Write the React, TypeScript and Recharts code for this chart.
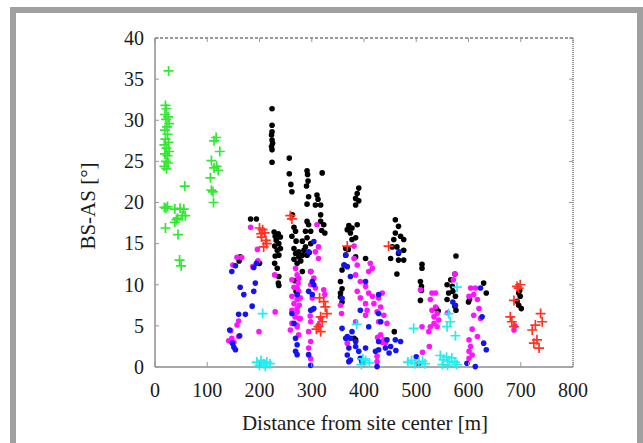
import React from 'react';
import { ScatterChart, Scatter, XAxis, YAxis, ReferenceLine } from 'recharts';

// plot box
const FONT = "'Liberation Serif', 'DejaVu Serif', serif";
const PLOT_TOP = 38;
const PLOT_BOTTOM = 367;
const PLOT_LEFT = 155;
const PLOT_RIGHT = 573;

const X_TICKS = [0, 100, 200, 300, 400, 500, 600, 700, 800];
const Y_TICKS = [0, 5, 10, 15, 20, 25, 30, 35, 40];

const X_TITLE = 'Distance from site center [m]';
const Y_TITLE = 'BS-AS [°]';

// [distance m, BS-AS deg]
const GREEN: [number, number][] = [
  [26, 36.0],
  [20, 31.8], [22, 31.4], [19, 30.7], [25, 30.4], [21, 30.1], [27, 29.6], [23, 29.2], [19, 28.8],
  [24, 28.3], [20, 27.7], [26, 27.3], [18, 27.0], [22, 26.6], [27, 26.2], [19, 25.9], [24, 25.7],
  [21, 25.0], [25, 24.8], [18, 24.4], [22, 24.1],
  [18, 19.4], [21, 19.3], [24, 19.5], [20, 16.9],
  [38, 19.2], [43, 18.1], [38, 17.6], [41, 17.9], [48, 19.3], [55, 19.2], [52, 18.4], [58, 18.4],
  [44, 16.1], [47, 13.0], [50, 12.3], [57, 22.0],
  [117, 27.9], [113, 27.5], [124, 26.2], [108, 25.1], [113, 24.2], [118, 24.4], [121, 23.9],
  [106, 23.0], [108, 21.5], [111, 21.3], [112, 20.0],
];

const RED: [number, number][] = [
  [206, 16.7], [200, 16.9], [210, 16.3], [204, 15.8], [212, 15.4], [208, 14.6], [214, 15.0], [203, 16.2],
  [259, 18.4], [262, 18.0],
  [323, 7.95], [326, 7.3], [329, 6.5], [317, 6.1], [320, 5.5], [313, 4.9], [317, 4.3], [309, 4.6], [315, 8.4],
  [368, 14.7], [447, 14.7],
  [693, 9.8], [699, 10.0], [696, 9.6], [687, 8.1], [680, 6.1], [683, 5.5], [687, 4.9],
  [738, 6.5], [741, 5.5], [722, 4.5], [728, 5.1], [725, 2.9], [731, 3.3], [735, 2.3],
];

const CYAN: [number, number][] = [
  [206, 6.5], [195, 0.6], [203, 0.8], [208, 0.4], [214, 0.6], [220, 0.4], [200, 0.2], [211, 0.1],
  [386, 5.2], [398, 1.0], [403, 0.8], [410, 0.5], [395, 0.3],
  [495, 4.7], [484, 0.6], [491, 0.8], [497, 0.4], [505, 0.6], [512, 0.7], [517, 0.4],
  [578, 9.7], [562, 6.5], [559, 4.9], [565, 5.5], [575, 3.8],
  [546, 1.4], [552, 0.9], [558, 1.2], [563, 0.7], [568, 1.1], [574, 0.6], [578, 0.3], [550, 0.3], [560, 0.2],
];

const BLACK: [number, number][] = [
  [224, 31.4], [224, 29.4], [224, 28.6], [223, 28.2], [224, 27.6], [225, 27.2], [223, 26.8], [224, 26.4], [224, 24.9],
  [257, 25.4], [257, 23.5], [260, 22.2], [262, 21.3], [263, 18.5],
  [291, 23.85], [292, 23.4], [293, 22.6], [290, 22.0], [294, 20.7], [291, 19.8], [320, 23.6],
  [310, 20.9], [312, 20.4], [307, 19.7], [317, 19.7], [317, 18.5], [317, 17.7], [323, 17.3], [319, 16.6], [325, 16.3],
  [291, 17.7], [294, 17.3], [288, 16.5], [298, 16.5], [291, 15.7], [282, 15.3], [298, 15.0], [288, 14.6],
  [275, 14.0], [282, 13.6], [291, 13.6], [282, 11.6], [298, 11.6], [285, 14.2], [295, 13.9], [279, 12.9],
  [183, 18.0], [194, 18.0],
  [228, 16.4], [236, 16.2], [230, 15.9], [240, 15.8], [232, 15.4], [237, 15.0], [229, 14.7], [240, 14.4],
  [234, 14.2], [230, 13.5], [237, 13.6], [229, 12.6], [234, 12.0], [237, 11.0], [236, 10.2], [237, 9.9],
  [266, 17.0], [269, 16.5], [262, 15.9], [270, 15.3], [266, 14.4], [269, 13.8], [275, 13.4], [266, 13.1],
  [272, 12.6], [268, 10.5], [270, 9.2],
  [163, 13.4], [161, 12.9], [200, 12.6],
  [390, 21.75], [387, 21.1], [384, 20.5], [390, 20.2], [384, 19.7],
  [371, 17.2], [377, 16.9], [387, 17.3], [368, 16.7], [374, 16.3], [384, 15.7], [377, 15.5], [365, 14.4],
  [370, 14.3], [384, 13.4], [403, 13.2],
  [365, 13.6], [358, 11.8], [355, 10.4], [358, 9.5], [355, 8.5], [358, 7.9], [355, 9.0], [362, 12.4],
  [381, 3.5], [384, 3.3], [458, 4.3],
  [460, 17.9], [466, 17.1], [460, 16.3], [470, 15.9], [457, 15.5], [476, 15.5], [463, 14.6], [454, 14.6],
  [476, 14.2], [466, 13.8], [451, 13.2], [466, 13.0], [476, 13.0], [463, 11.3],
  [511, 12.5], [511, 12.0], [508, 10.4], [510, 9.8], [510, 9.3], [508, 8.1],
  [576, 13.5], [574, 11.3], [566, 10.6], [559, 10.0], [569, 9.8], [562, 9.0], [570, 9.2], [559, 8.2],
  [575, 8.6], [574, 7.4], [576, 6.9], [538, 7.1], [542, 6.8],
  [629, 10.2], [634, 9.0], [602, 8.2], [600, 7.9],
  [696, 9.0], [699, 8.6], [693, 8.0], [696, 7.5], [701, 7.1], [698, 9.3],
];

const MAGENTA: [number, number][] = [
  [183, 17.0], [196, 14.3], [157, 13.35], [166, 13.3], [149, 12.4], [187, 12.2], [197, 12.9], [229, 11.2],
  [230, 6.7], [199, 4.3],
  [160, 5.6], [157, 5.1], [145, 4.4], [141, 3.2], [160, 3.7], [151, 3.0], [147, 3.5],
  [269, 12.0], [272, 11.2], [262, 10.6], [274, 10.2], [266, 9.7], [275, 9.2], [262, 8.6], [272, 8.2],
  [266, 7.7], [276, 7.5], [262, 6.9], [272, 6.7], [268, 6.1], [276, 5.9], [262, 5.3], [272, 4.9], [259, 4.5],
  [275, 10.8], [272, 9.6], [278, 8.4], [272, 7.1], [278, 5.9], [272, 5.1], [275, 3.9],
  [310, 17.3], [313, 14.6], [307, 14.0], [313, 13.2], [298, 11.6],
  [304, 10.8], [298, 10.0], [307, 9.6], [301, 8.4], [323, 9.4], [325, 8.8], [298, 5.5], [294, 4.3],
  [298, 3.1], [294, 2.3], [298, 1.0], [317, 5.9], [313, 5.1], [301, 7.0], [297, 6.2],
  [381, 14.7], [381, 13.2], [387, 12.4], [384, 11.2], [412, 12.6], [416, 12.0], [409, 11.6], [393, 10.4], [403, 9.8],
  [387, 9.2], [393, 8.4], [409, 9.0], [416, 8.6], [435, 9.0], [428, 8.4], [403, 7.7], [419, 7.7], [432, 7.3],
  [406, 6.9], [425, 6.7], [438, 6.3], [403, 6.3], [428, 5.5], [444, 5.3], [384, 5.5],
  [432, 3.9], [438, 3.3], [441, 2.9], [426, 3.6], [435, 3.0], [368, 2.9], [425, 1.3], [425, 0.65],
  [355, 7.5], [357, 6.5],
  [508, 9.4], [530, 9.0], [537, 9.0], [527, 8.2], [537, 7.3], [530, 6.9], [540, 6.5], [534, 6.1],
  [543, 5.7], [534, 5.3], [540, 4.9], [527, 4.9], [511, 4.9], [524, 4.3], [525, 2.5], [512, 1.8],
  [574, 11.3], [571, 10.6], [560, 6.6],
  [604, 9.6], [613, 9.6], [610, 8.8], [601, 8.6], [617, 8.2], [620, 7.1], [610, 6.3], [623, 5.9],
  [617, 3.7], [601, 3.3], [604, 2.5], [601, 1.9], [607, 1.45], [601, 1.05], [607, 4.6],
  [687, 4.5], [689, 5.0],
];

const BLUE: [number, number][] = [
  [147, 11.6], [154, 12.3], [194, 12.6], [189, 12.1], [163, 9.7], [192, 10.2], [170, 8.8], [189, 9.2],
  [186, 7.4], [160, 6.4], [173, 6.4], [143, 4.5], [148, 2.9], [151, 2.4], [154, 2.1], [162, 3.8],
  [262, 6.5], [266, 5.3], [269, 3.5], [272, 2.7], [269, 1.9], [272, 8.8], [272, 1.5],
  [304, 15.25], [294, 14.0], [301, 10.4], [304, 10.0], [294, 9.2], [301, 8.8], [304, 7.1], [298, 6.9],
  [298, 0.2], [294, 1.5],
  [365, 13.6], [362, 12.4], [358, 8.35], [358, 4.7], [365, 3.5], [374, 3.5], [368, 1.45], [371, 0.65], [377, 4.3],
  [368, 12.2], [374, 11.0], [403, 10.4], [428, 8.8], [393, 6.9], [428, 6.5], [432, 5.5], [409, 4.9], [467, 14.0],
  [384, 3.1], [368, 3.7], [371, 2.3], [384, 2.5], [390, 1.9], [403, 2.3], [393, 1.05], [396, 0.65], [374, 0.85],
  [422, 1.9], [428, 2.1], [441, 2.3], [444, 3.3], [460, 3.3], [451, 2.5], [448, 1.7], [428, 3.1], [425, 0.05],
  [461, 2.0], [470, 3.1],
  [500, 1.25], [505, 0.45], [575, 7.5], [570, 7.9], [623, 9.6], [626, 6.1], [629, 2.9], [634, 2.1],
  [597, 0.45], [613, 0.05],
];

const toPoints = (arr: [number, number][]) => arr.map(([x, y]) => ({ x, y }));

const dotShape = (color: string) => (props: any) => (
  <circle cx={props.cx} cy={props.cy} r={2.8} fill={color} />
);

const plusShape = (color: string) => (props: any) => (
  <path
    d={`M${props.cx - 5},${props.cy}h10M${props.cx},${props.cy - 5}v10`}
    stroke={color}
    strokeWidth={1.7}
    fill="none"
  />
);

const textStyle = { fontFamily: FONT, fontSize: 20 };
const titleStyle = { fontFamily: FONT, fontSize: 21 };

const XTick = ({ x, payload }: any) => (
  <g>
    <line x1={x} x2={x} y1={PLOT_BOTTOM} y2={PLOT_BOTTOM - 5} stroke="#999" />
    <line x1={x} x2={x} y1={PLOT_TOP} y2={PLOT_TOP + 4} stroke="#999" />
    <text x={x} y={PLOT_BOTTOM + 30} textAnchor="middle" style={textStyle} fill="#1a1a1a">
      {payload.value}
    </text>
  </g>
);

const YTick = ({ y, payload }: any) => (
  <g>
    <line x1={PLOT_LEFT} x2={PLOT_LEFT + 4} y1={y} y2={y} stroke="#999" />
    <line x1={PLOT_RIGHT} x2={PLOT_RIGHT - 4} y1={y} y2={y} stroke="#999" />
    <text x={PLOT_LEFT - 11} y={y} dy="0.34em" textAnchor="end" style={textStyle} fill="#1a1a1a">
      {payload.value}
    </text>
  </g>
);

export default function App() {
  return (
    <div style={{ position: 'absolute', left: 0, top: 0, width: 643, height: 443, background: '#fff', overflow: 'hidden' }}>
      {/* grey frame round the figure, open at the bottom */}
      <div
        style={{
          position: 'absolute',
          left: 10,
          top: 7,
          width: 621,
          height: 460,
          borderLeft: '6px solid #a0a0a0',
          borderTop: '6px solid #a0a0a0',
          borderRight: '6px solid #a0a0a0',
        }}
      />
      <div style={{ position: 'absolute', left: 0, top: 0 }}>
        <ScatterChart width={643} height={443} margin={{ top: PLOT_TOP, right: 643 - PLOT_RIGHT, bottom: 0, left: 0 }}>
          <XAxis
            dataKey="x"
            type="number"
            domain={[0, 800]}
            ticks={X_TICKS}
            height={443 - PLOT_BOTTOM}
            axisLine={{ stroke: '#555' }}
            tickLine={false}
            tick={<XTick />}
            interval={0}
            label={() => (
              <text x={365} y={430} textAnchor="middle" style={titleStyle} fill="#1a1a1a">
                {X_TITLE}
              </text>
            )}
          />
          <YAxis
            dataKey="y"
            type="number"
            domain={[0, 40]}
            ticks={Y_TICKS}
            width={PLOT_LEFT}
            axisLine={{ stroke: '#555' }}
            tickLine={false}
            tick={<YTick />}
            interval={0}
            label={() => (
              <text
                x={95}
                y={206}
                transform="rotate(-90 95 206)"
                textAnchor="middle"
                style={titleStyle}
                fill="#1a1a1a"
              >
                {Y_TITLE}
              </text>
            )}
          />
          <ReferenceLine y={40} stroke="#333" strokeDasharray="3 2" />
          <ReferenceLine x={800} stroke="#333" strokeDasharray="1 1" />
          <Scatter data={toPoints(BLACK)} shape={dotShape('#000000')} isAnimationActive={false} />
          <Scatter data={toPoints(MAGENTA)} shape={dotShape('#ff14ff')} isAnimationActive={false} />
          <Scatter data={toPoints(BLUE)} shape={dotShape('#1414f0')} isAnimationActive={false} />
          <Scatter data={toPoints(RED)} shape={plusShape('#ff3322')} isAnimationActive={false} />
          <Scatter data={toPoints(CYAN)} shape={plusShape('#22eeee')} isAnimationActive={false} />
          <Scatter data={toPoints(GREEN)} shape={plusShape('#33e833')} isAnimationActive={false} />
        </ScatterChart>
      </div>
    </div>
  );
}
